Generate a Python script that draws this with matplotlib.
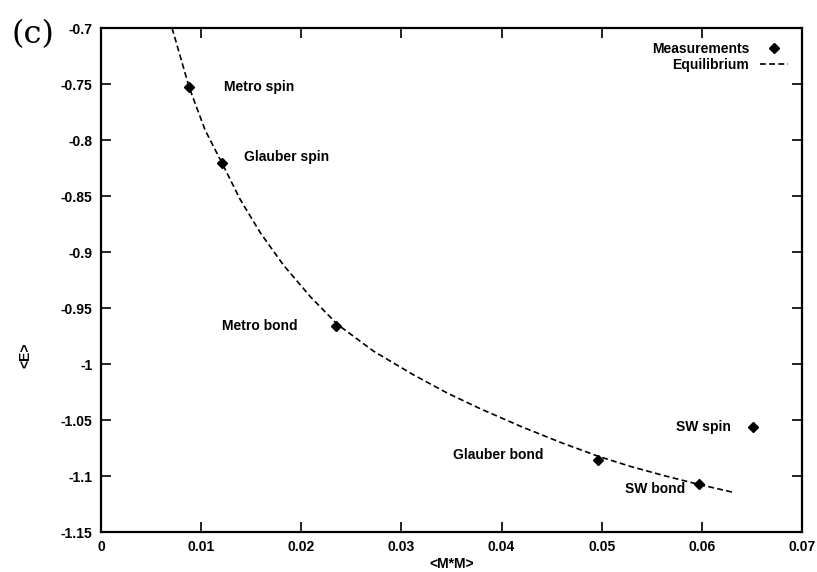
import matplotlib

matplotlib.use("Agg")
import matplotlib.pyplot as plt

# equilibrium curve <E> vs <M*M>
eq_m2 = [0.0071, 0.0088, 0.0104, 0.0121, 0.0139, 0.0159, 0.0182, 0.0209, 0.0236,
         0.0272, 0.0312, 0.0346, 0.0379, 0.0419, 0.0459, 0.0497, 0.0529, 0.0563,
         0.0597, 0.0631]
eq_e = [-0.700, -0.7527, -0.7911, -0.8208, -0.853, -0.8826, -0.9114, -0.9398, -0.9645,
        -0.9884, -1.0096, -1.026, -1.040, -1.0556, -1.070, -1.0825, -1.0915, -1.0998,
        -1.1075, -1.1145]

# measured points
names = ["Metro spin", "Glauber spin", "Metro bond", "Glauber bond", "SW spin", "SW bond"]
meas_m2 = [0.0088, 0.0121, 0.0235, 0.0496, 0.0651, 0.0597]
meas_e = [-0.7527, -0.8208, -0.966, -1.0857, -1.056, -1.107]
label_x = [0.0123, 0.0143, 0.0121, 0.0352, 0.0574, 0.0523]
label_y = [-0.7527, -0.815, -0.966, -1.081, -1.056, -1.112]

xticks = [0, 0.01, 0.02, 0.03, 0.04, 0.05, 0.06, 0.07]
xtick_labels = ["0", "0.01", "0.02", "0.03", "0.04", "0.05", "0.06", "0.07"]
yticks = [-0.7, -0.75, -0.8, -0.85, -0.9, -0.95, -1.0, -1.05, -1.1, -1.15]
ytick_labels = ["-0.7", "-0.75", "-0.8", "-0.85", "-0.9", "-0.95", "-1", "-1.05", "-1.1", "-1.15"]

plt.rcParams["font.family"] = ["Liberation Sans", "DejaVu Sans"]

fig = plt.figure(figsize=(8.17, 5.72), dpi=100)
ax = fig.add_axes([0.1236, 0.0699, 0.858, 0.881])

ax.plot(meas_m2, meas_e, linestyle="none", marker="D", markersize=5, color="black",
        label="Measurements")
ax.plot(eq_m2, eq_e, linestyle=(0, (3.5, 2)), linewidth=1.2, color="black",
        label="Equilibrium")

for name, lx, ly in zip(names, label_x, label_y):
    ax.text(lx, ly, name, ha="left", va="center", fontsize=10, fontweight="bold")

ax.set_xlim(0, 0.07)
ax.set_ylim(-1.15, -0.7)
ax.set_xticks(xticks, xtick_labels)
ax.set_yticks(yticks, ytick_labels)
ax.tick_params(direction="in", length=7, width=1.2, top=True, right=True,
               labelsize=10, pad=6)
for lbl in ax.get_xticklabels() + ax.get_yticklabels():
    lbl.set_fontweight("bold")
for spine in ax.spines.values():
    spine.set_linewidth(1.6)

ax.set_xlabel("<M*M>", fontsize=10, fontweight="bold", labelpad=2)
ax.set_ylabel("<E>", fontsize=10, fontweight="bold")
ax.yaxis.set_label_coords(-0.098, 0.351)

ax.legend(loc="upper right", markerfirst=False, frameon=False,
          handlelength=2.0, handletextpad=0.8, labelspacing=0.15,
          borderaxespad=0.6, prop={"weight": "bold", "size": 10})

fig.text(0.014, 0.966, "(c)", fontsize=23, family="DejaVu Serif", va="top", ha="left")

fig.savefig("out.png", dpi=100)
plt.close(fig)
